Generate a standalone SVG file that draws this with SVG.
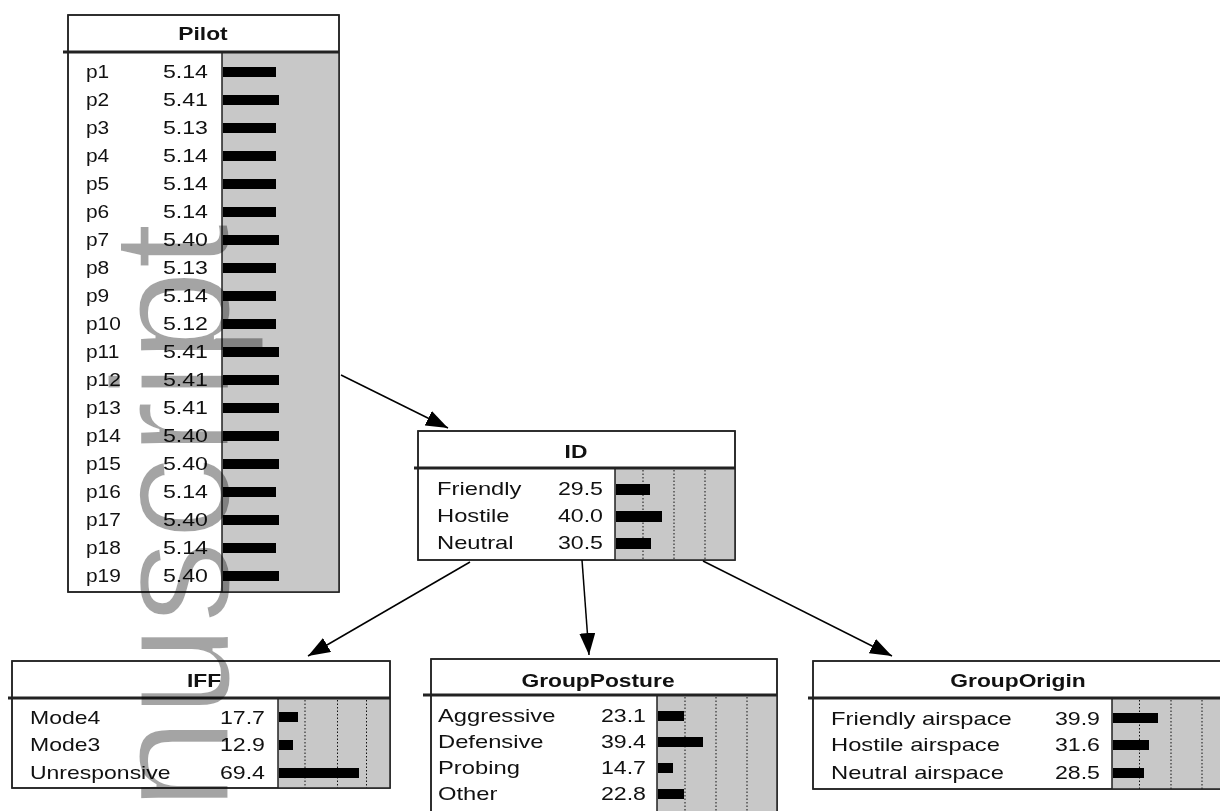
<svg xmlns="http://www.w3.org/2000/svg" width="1220" height="811" viewBox="0 0 1220 811">
<style>
.box{fill:#fff;stroke:#222;stroke-width:1.5}
.panel{fill:#c8c8c8}
.sep{stroke:#222;stroke-width:3}
.pl{stroke:#222;stroke-width:1.5}
.dot{stroke:#111;stroke-width:1;stroke-dasharray:1.5 2}
.bar{fill:#000}
text{font-family:"Liberation Sans",Arial,sans-serif;font-size:19px;fill:#111}
.t{font-weight:bold;text-anchor:middle}
.v{text-anchor:end}
.conn{stroke:#000;stroke-width:1.5;fill:none}
.wm{font-family:"Liberation Sans",Arial,sans-serif;font-size:168px;fill:#a4a4a4;stroke:#fff;stroke-width:3;mix-blend-mode:multiply}
</style>
<defs>
<marker id="ah" markerUnits="userSpaceOnUse" markerWidth="22" markerHeight="16" viewBox="0 0 22 16" refX="22" refY="8" orient="auto">
<path d="M0,0 L22,8 L0,16 Z" fill="#000"/>
</marker>
</defs>
<rect width="1220" height="811" fill="#fff"/>

<g id="Pilot">
<rect class="box" x="68" y="15" width="271" height="577"/>
<rect class="panel" x="222" y="52" width="117" height="540"/>
<line class="pl" x1="222" y1="52" x2="222" y2="592"/>
<line class="sep" x1="63" y1="52" x2="339" y2="52"/>
<rect x="68" y="15" width="271" height="577" fill="none" stroke="#222" stroke-width="1.5"/>
<text class="t" transform="translate(203 40) scale(1.2 1)">Pilot</text>
<g>
<text transform="translate(86 78) scale(1.1 1)">p1</text><text class="v" transform="translate(208 78) scale(1.22 1)">5.14</text><rect class="bar" x="223" y="67" width="53" height="10"/>
<text transform="translate(86 106) scale(1.1 1)">p2</text><text class="v" transform="translate(208 106) scale(1.22 1)">5.41</text><rect class="bar" x="223" y="95" width="56" height="10"/>
<text transform="translate(86 134) scale(1.1 1)">p3</text><text class="v" transform="translate(208 134) scale(1.22 1)">5.13</text><rect class="bar" x="223" y="123" width="53" height="10"/>
<text transform="translate(86 162) scale(1.1 1)">p4</text><text class="v" transform="translate(208 162) scale(1.22 1)">5.14</text><rect class="bar" x="223" y="151" width="53" height="10"/>
<text transform="translate(86 190) scale(1.1 1)">p5</text><text class="v" transform="translate(208 190) scale(1.22 1)">5.14</text><rect class="bar" x="223" y="179" width="53" height="10"/>
<text transform="translate(86 218) scale(1.1 1)">p6</text><text class="v" transform="translate(208 218) scale(1.22 1)">5.14</text><rect class="bar" x="223" y="207" width="53" height="10"/>
<text transform="translate(86 246) scale(1.1 1)">p7</text><text class="v" transform="translate(208 246) scale(1.22 1)">5.40</text><rect class="bar" x="223" y="235" width="56" height="10"/>
<text transform="translate(86 274) scale(1.1 1)">p8</text><text class="v" transform="translate(208 274) scale(1.22 1)">5.13</text><rect class="bar" x="223" y="263" width="53" height="10"/>
<text transform="translate(86 302) scale(1.1 1)">p9</text><text class="v" transform="translate(208 302) scale(1.22 1)">5.14</text><rect class="bar" x="223" y="291" width="53" height="10"/>
<text transform="translate(86 330) scale(1.1 1)">p10</text><text class="v" transform="translate(208 330) scale(1.22 1)">5.12</text><rect class="bar" x="223" y="319" width="53" height="10"/>
<text transform="translate(86 358) scale(1.1 1)">p11</text><text class="v" transform="translate(208 358) scale(1.22 1)">5.41</text><rect class="bar" x="223" y="347" width="56" height="10"/>
<text transform="translate(86 386) scale(1.1 1)">p12</text><text class="v" transform="translate(208 386) scale(1.22 1)">5.41</text><rect class="bar" x="223" y="375" width="56" height="10"/>
<text transform="translate(86 414) scale(1.1 1)">p13</text><text class="v" transform="translate(208 414) scale(1.22 1)">5.41</text><rect class="bar" x="223" y="403" width="56" height="10"/>
<text transform="translate(86 442) scale(1.1 1)">p14</text><text class="v" transform="translate(208 442) scale(1.22 1)">5.40</text><rect class="bar" x="223" y="431" width="56" height="10"/>
<text transform="translate(86 470) scale(1.1 1)">p15</text><text class="v" transform="translate(208 470) scale(1.22 1)">5.40</text><rect class="bar" x="223" y="459" width="56" height="10"/>
<text transform="translate(86 498) scale(1.1 1)">p16</text><text class="v" transform="translate(208 498) scale(1.22 1)">5.14</text><rect class="bar" x="223" y="487" width="53" height="10"/>
<text transform="translate(86 526) scale(1.1 1)">p17</text><text class="v" transform="translate(208 526) scale(1.22 1)">5.40</text><rect class="bar" x="223" y="515" width="56" height="10"/>
<text transform="translate(86 554) scale(1.1 1)">p18</text><text class="v" transform="translate(208 554) scale(1.22 1)">5.14</text><rect class="bar" x="223" y="543" width="53" height="10"/>
<text transform="translate(86 582) scale(1.1 1)">p19</text><text class="v" transform="translate(208 582) scale(1.22 1)">5.40</text><rect class="bar" x="223" y="571" width="56" height="10"/>
</g>
</g>

<g id="ID">
<rect class="box" x="418" y="431" width="317" height="129"/>
<rect class="panel" x="615" y="468" width="120" height="92"/>
<line class="dot" x1="643" y1="470" x2="643" y2="560"/>
<line class="dot" x1="674" y1="470" x2="674" y2="560"/>
<line class="dot" x1="705" y1="470" x2="705" y2="560"/>
<line class="pl" x1="615" y1="468" x2="615" y2="560"/>
<line class="sep" x1="414" y1="468" x2="735" y2="468"/>
<rect x="418" y="431" width="317" height="129" fill="none" stroke="#222" stroke-width="1.5"/>
<text class="t" transform="translate(576 458) scale(1.2 1)">ID</text>
<text transform="translate(437 495) scale(1.25 1)">Friendly</text><text class="v" transform="translate(603 495) scale(1.22 1)">29.5</text><rect class="bar" x="616" y="484" width="34" height="11"/>
<text transform="translate(437 522) scale(1.25 1)">Hostile</text><text class="v" transform="translate(603 522) scale(1.22 1)">40.0</text><rect class="bar" x="616" y="511" width="46" height="11"/>
<text transform="translate(437 549) scale(1.25 1)">Neutral</text><text class="v" transform="translate(603 549) scale(1.22 1)">30.5</text><rect class="bar" x="616" y="538" width="35" height="11"/>
</g>

<g id="IFF">
<rect class="box" x="12" y="661" width="378" height="127"/>
<rect class="panel" x="278" y="698" width="112" height="90"/>
<line class="dot" x1="305" y1="700" x2="305" y2="788"/>
<line class="dot" x1="337.5" y1="700" x2="337.5" y2="788"/>
<line class="dot" x1="366.5" y1="700" x2="366.5" y2="788"/>
<line class="pl" x1="278" y1="698" x2="278" y2="788"/>
<line class="sep" x1="8" y1="698" x2="390" y2="698"/>
<rect x="12" y="661" width="378" height="127" fill="none" stroke="#222" stroke-width="1.5"/>
<text class="t" transform="translate(204 687) scale(1.2 1)">IFF</text>
<text transform="translate(30 723.5) scale(1.21 1)">Mode4</text><text class="v" transform="translate(265 723.5) scale(1.22 1)">17.7</text><rect class="bar" x="279" y="712" width="19" height="10"/>
<text transform="translate(30 751) scale(1.21 1)">Mode3</text><text class="v" transform="translate(265 751) scale(1.22 1)">12.9</text><rect class="bar" x="279" y="740" width="14" height="10"/>
<text transform="translate(30 779) scale(1.21 1)">Unresponsive</text><text class="v" transform="translate(265 779) scale(1.22 1)">69.4</text><rect class="bar" x="279" y="768" width="80" height="10"/>
</g>

<g id="GroupPosture">
<rect class="box" x="431" y="659" width="346" height="165"/>
<rect class="panel" x="657" y="695" width="120" height="129"/>
<line class="dot" x1="685" y1="697" x2="685" y2="811"/>
<line class="dot" x1="716" y1="697" x2="716" y2="811"/>
<line class="dot" x1="747" y1="697" x2="747" y2="811"/>
<line class="pl" x1="657" y1="695" x2="657" y2="824"/>
<line class="sep" x1="423" y1="695" x2="777" y2="695"/>
<rect x="431" y="659" width="346" height="165" fill="none" stroke="#222" stroke-width="1.5"/>
<text class="t" transform="translate(598 687) scale(1.2 1)">GroupPosture</text>
<text transform="translate(438 722) scale(1.25 1)">Aggressive</text><text class="v" transform="translate(646 722) scale(1.22 1)">23.1</text><rect class="bar" x="658" y="711" width="26" height="10"/>
<text transform="translate(438 748) scale(1.25 1)">Defensive</text><text class="v" transform="translate(646 748) scale(1.22 1)">39.4</text><rect class="bar" x="658" y="737" width="45" height="10"/>
<text transform="translate(438 774) scale(1.25 1)">Probing</text><text class="v" transform="translate(646 774) scale(1.22 1)">14.7</text><rect class="bar" x="658" y="763" width="15" height="10"/>
<text transform="translate(438 800) scale(1.25 1)">Other</text><text class="v" transform="translate(646 800) scale(1.22 1)">22.8</text><rect class="bar" x="658" y="789" width="26" height="10"/>
</g>

<g id="GroupOrigin">
<rect class="box" x="813" y="661" width="420" height="128"/>
<rect class="panel" x="1112" y="698" width="121" height="91"/>
<line class="dot" x1="1139.5" y1="700" x2="1139.5" y2="789"/>
<line class="dot" x1="1171" y1="700" x2="1171" y2="789"/>
<line class="dot" x1="1202" y1="700" x2="1202" y2="789"/>
<line class="pl" x1="1112" y1="698" x2="1112" y2="789"/>
<line class="sep" x1="808" y1="698" x2="1233" y2="698"/>
<rect x="813" y="661" width="420" height="128" fill="none" stroke="#222" stroke-width="1.5"/>
<text class="t" transform="translate(1018 687) scale(1.2 1)">GroupOrigin</text>
<text transform="translate(831 724.5) scale(1.25 1)">Friendly airspace</text><text class="v" transform="translate(1100 724.5) scale(1.22 1)">39.9</text><rect class="bar" x="1113" y="713" width="45" height="10"/>
<text transform="translate(831 751) scale(1.25 1)">Hostile airspace</text><text class="v" transform="translate(1100 751) scale(1.22 1)">31.6</text><rect class="bar" x="1113" y="740" width="36" height="10"/>
<text transform="translate(831 779) scale(1.25 1)">Neutral airspace</text><text class="v" transform="translate(1100 779) scale(1.22 1)">28.5</text><rect class="bar" x="1113" y="768" width="31" height="10"/>
</g>

<g id="connectors">
<line class="conn" x1="341" y1="375" x2="448" y2="428" marker-end="url(#ah)"/>
<line class="conn" x1="470" y1="562" x2="308" y2="656" marker-end="url(#ah)"/>
<line class="conn" x1="582" y1="560" x2="589" y2="655" marker-end="url(#ah)"/>
<line class="conn" x1="703" y1="561" x2="892" y2="656" marker-end="url(#ah)"/>
</g>

<g id="watermark">
<text class="wm" transform="translate(229 811) rotate(-90)">nuscript</text>
</g>
</svg>
